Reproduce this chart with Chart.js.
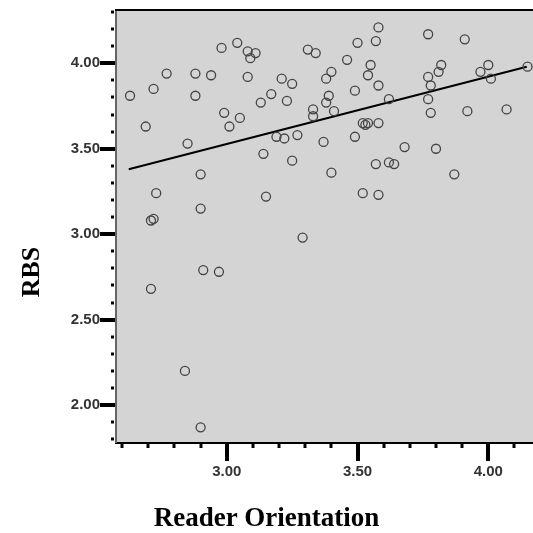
<!DOCTYPE html>
<html>
<head>
<meta charset="utf-8">
<script src="https://cdn.jsdelivr.net/npm/chart.js@4"></script>
<style>
  html, body { margin: 0; padding: 0; background: #fff; }
  #wrap { width: 533px; height: 533px; }
</style>
</head>
<body>
<div id="wrap"><canvas id="myChart" width="533" height="533"></canvas></div>
<script>
// values
var readerOrientation = [
  2.98, 3.04, 3.08, 3.11, 3.09, 2.77, 2.88, 2.94, 3.08, 3.21,
  3.25, 2.72, 2.63, 2.88, 3.17, 3.13, 3.23, 2.99, 3.05, 3.01,
  2.69, 2.85, 3.19, 3.22, 3.27, 3.14, 3.25, 2.90, 2.73, 3.15,
  2.90, 2.72, 2.71, 2.91, 2.97, 2.71, 2.84, 2.90, 3.29, 3.58,
  3.77, 3.91, 3.50, 3.57, 3.31, 3.34, 3.46, 3.55, 3.54, 3.40,
  3.38, 3.82, 3.81, 3.77, 3.78, 4.00, 3.97, 4.01, 4.15, 3.58,
  3.49, 3.39, 3.38, 3.41, 3.33, 3.33, 3.62, 3.77, 3.78, 3.92,
  4.07, 3.52, 3.54, 3.58, 3.53, 3.37, 3.49, 3.68, 3.80, 3.57,
  3.62, 3.64, 3.87, 3.40, 3.52, 3.58
];
var rbs = [
  4.09, 4.12, 4.07, 4.06, 4.03, 3.94, 3.94, 3.93, 3.92, 3.91,
  3.88, 3.85, 3.81, 3.81, 3.82, 3.77, 3.78, 3.71, 3.68, 3.63,
  3.63, 3.53, 3.57, 3.56, 3.58, 3.47, 3.43, 3.35, 3.24, 3.22,
  3.15, 3.09, 3.08, 2.79, 2.78, 2.68, 2.20, 1.87, 2.98, 4.21,
  4.17, 4.14, 4.12, 4.13, 4.08, 4.06, 4.02, 3.99, 3.93, 3.95,
  3.91, 3.99, 3.95, 3.92, 3.87, 3.99, 3.95, 3.91, 3.98, 3.87,
  3.84, 3.81, 3.77, 3.72, 3.73, 3.69, 3.79, 3.79, 3.71, 3.72,
  3.73, 3.65, 3.65, 3.65, 3.64, 3.54, 3.57, 3.51, 3.50, 3.41,
  3.42, 3.41, 3.35, 3.36, 3.24, 3.23
];
// fit line end points
var fitX = [2.625, 4.147];
var fitY = [3.38, 3.98];

var xMin = 2.5725, xMax = 4.171;
var yMin = 1.778, yMax = 4.306;

var points = readerOrientation.map(function (v, i) { return { x: v, y: rbs[i] }; });
var fitLine = fitX.map(function (v, i) { return { x: v, y: fitY[i] }; });

var frame = {
  id: 'frame',
  beforeDatasetsDraw: function (chart) {
    var a = chart.chartArea, ctx = chart.ctx;
    ctx.save();
    ctx.fillStyle = '#d4d4d4';
    ctx.fillRect(a.left, a.top, a.right - a.left, a.bottom - a.top);
    ctx.restore();
  },
  afterDatasetsDraw: function (chart) {
    var a = chart.chartArea, ctx = chart.ctx;
    var xs = chart.scales.x, ys = chart.scales.y;
    ctx.save();
    // top and bottom lines
    ctx.fillStyle = '#000';
    ctx.fillRect(a.left, a.top - 2, a.right - a.left, 2);
    ctx.fillRect(a.left, a.bottom - 1, a.right - a.left, 2);
    // left axis
    ctx.fillStyle = '#666';
    ctx.fillRect(a.left, a.top, 2, a.bottom - a.top);
    ctx.fillStyle = '#000';
    // y ticks
    for (var k = Math.ceil(yMin * 10); k <= Math.floor(yMax * 10); k++) {
      var py = Math.round(ys.getPixelForValue(k / 10));
      if (k % 5 === 0) ctx.fillRect(a.left - 15, py - 2, 15, 4);
      else ctx.fillRect(a.left - 4, py - 1.5, 3, 3);
    }
    // x ticks
    for (var j = Math.ceil(xMin * 10); j <= Math.floor(xMax * 10); j++) {
      var px = Math.round(xs.getPixelForValue(j / 10));
      if (j % 5 === 0) ctx.fillRect(px - 2, a.bottom, 4, 18);
      else ctx.fillRect(px - 1.5, a.bottom + 1, 3, 4);
    }
    ctx.restore();
  }
};

var tickFont = { family: '"Liberation Sans", Arial, sans-serif', size: 15, weight: 'bold' };

new Chart(document.getElementById('myChart').getContext('2d'), {
  type: 'scatter',
  data: {
    datasets: [{
      label: 'RBS',
      data: points,
      pointStyle: 'circle',
      pointRadius: 4.5,
      pointHoverRadius: 4.5,
      borderWidth: 1.3,
      borderColor: '#444',
      backgroundColor: 'rgba(0,0,0,0)'
    }, {
      type: 'line',
      label: 'Fit',
      data: fitLine,
      borderColor: '#000',
      borderWidth: 2,
      pointRadius: 0,
      fill: false
    }]
  },
  options: {
    responsive: false,
    animation: false,
    devicePixelRatio: 1,
    layout: { autoPadding: false, padding: { top: 11, right: 0, bottom: 0, left: 0 } },
    plugins: {
      legend: { display: false },
      tooltip: { enabled: false },
      title: {
        display: true,
        position: 'bottom',
        text: 'Reader Orientation',
        color: '#000',
        font: { family: '"Liberation Serif", "Times New Roman", serif', size: 27, weight: 'bold', lineHeight: 1 },
        padding: { top: 0, bottom: 0 }
      },
      subtitle: {
        display: true,
        position: 'left',
        text: 'RBS',
        color: '#000',
        font: { family: '"Liberation Serif", "Times New Roman", serif', size: 26, weight: 'bold', lineHeight: 1.2 },
        padding: { top: 17, bottom: 0 }
      }
    },
    scales: {
      x: {
        type: 'linear',
        min: xMin,
        max: xMax,
        grid: { display: false, drawTicks: false },
        border: { display: false },
        ticks: {
          stepSize: 0.5,
          includeBounds: false,
          padding: 20,
          color: '#333',
          font: tickFont,
          maxRotation: 0,
          callback: function (v) { return Number(v).toFixed(2); }
        },
        afterFit: function (s) {
          s.height = 63;
          s.paddingLeft = 0; s.paddingRight = 0;
        }
      },
      y: {
        type: 'linear',
        min: yMin,
        max: yMax,
        grid: { display: false, drawTicks: false },
        border: { display: false },
        ticks: {
          stepSize: 0.5,
          includeBounds: false,
          padding: 15,
          color: '#333',
          font: tickFont,
          callback: function (v) { return Number(v).toFixed(2); }
        },
        afterFit: function (s) {
          s.width = 66.8;
          s.paddingTop = 0; s.paddingBottom = 0;
        }
      }
    }
  },
  plugins: [frame]
});
</script>
</body>
</html>
